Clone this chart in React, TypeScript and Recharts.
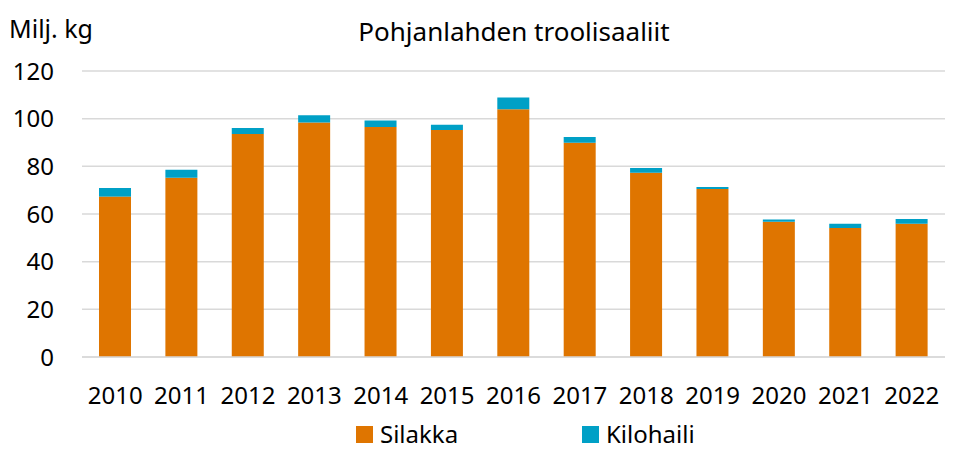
import React from 'react';
import { BarChart, Bar, XAxis, YAxis, CartesianGrid } from 'recharts';

// Vuodet ja saaliit (milj. kg)
const years = ['2010', '2011', '2012', '2013', '2014', '2015', '2016', '2017', '2018', '2019', '2020', '2021', '2022'];
const silakka = [67.3, 75.2, 93.6, 98.4, 96.5, 95.2, 103.9, 89.9, 77.3, 70.5, 56.8, 54.1, 55.9];
const kilohaili = [3.6, 3.4, 2.5, 3.0, 2.7, 2.3, 5.0, 2.4, 2.0, 0.8, 0.9, 1.8, 2.0];
const yTicks = [0, 20, 40, 60, 80, 100, 120];

const ORANGE = '#DF7500';
const BLUE = '#00A0C6';
const FONT = '"Noto Sans", "Open Sans", sans-serif';

const data = years.map((y, i) => ({ year: y, silakka: silakka[i], kilohaili: kilohaili[i] }));

const App = () => {
  return (
    <div style={{ position: 'absolute', left: 0, top: 0, width: 955, height: 452, background: '#fff', fontFamily: FONT }}>
      <div style={{ position: 'absolute', left: 9, top: 12, fontSize: 25, lineHeight: '32px', color: '#000' }}>Milj. kg</div>
      <div style={{ position: 'absolute', left: 0, width: 1028, top: 14, textAlign: 'center', fontSize: 26, lineHeight: '34px', color: '#000' }}>
        Pohjanlahden troolisaaliit
      </div>
      <BarChart
        width={955}
        height={452}
        data={data}
        margin={{ top: 71, right: 10, left: 0, bottom: 0 }}
      >
        <CartesianGrid vertical={false} stroke="#d9d9d9" strokeWidth={1.5} />
        <XAxis
          dataKey="year"
          height={95}
          axisLine={{ stroke: '#d9d9d9', strokeWidth: 1.5 }}
          tickLine={false}
          tickMargin={24}
          tick={{ fill: '#000', fontSize: 24, fontFamily: FONT }}
          interval={0}
        />
        <YAxis
          width={82}
          domain={[0, 120]}
          ticks={yTicks}
          axisLine={false}
          tickLine={false}
          tickMargin={22}
          tick={{ fill: '#000', fontSize: 24, fontFamily: FONT }}
        />
        <Bar dataKey="silakka" stackId="a" fill={ORANGE} barSize={32} isAnimationActive={false} />
        <Bar dataKey="kilohaili" stackId="a" fill={BLUE} barSize={32} isAnimationActive={false} />
      </BarChart>
      <div style={{ position: 'absolute', top: 422, left: 356, display: 'flex', alignItems: 'center', fontSize: 24, lineHeight: '24px', color: '#000' }}>
        <span style={{ width: 17, height: 17, background: ORANGE, display: 'inline-block', marginRight: 7 }} />
        <span style={{ width: 202 }}>Silakka</span>
        <span style={{ width: 17, height: 17, background: BLUE, display: 'inline-block', marginRight: 7 }} />
        <span>Kilohaili</span>
      </div>
    </div>
  );
};

export default App;
